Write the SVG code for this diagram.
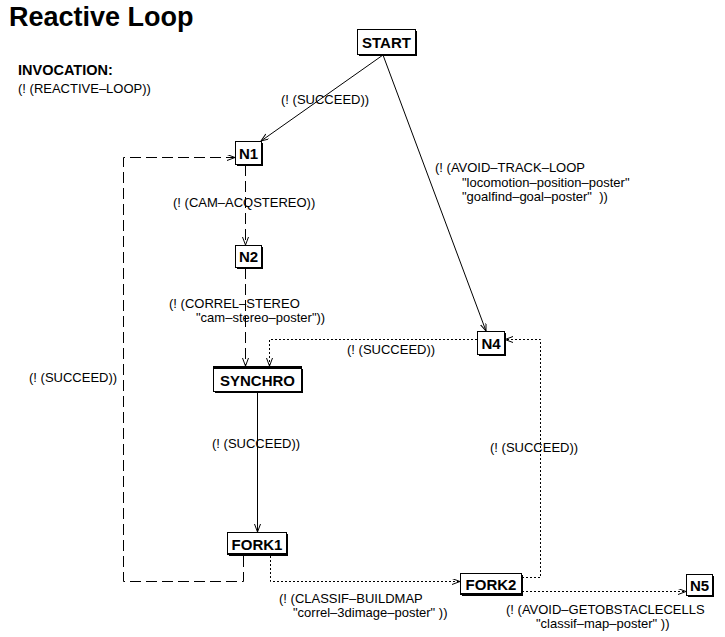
<svg xmlns="http://www.w3.org/2000/svg" width="725" height="637" viewBox="0 0 725 637">
  <style>
    text { font-family: "Liberation Sans", Arial, sans-serif; fill: #000; }
    .title { font-size: 27px; font-weight: bold; }
    .head { font-size: 14.5px; font-weight: bold; }
    .lbl { font-size: 13px; }
    .nodeText { font-size: 15px; font-weight: bold; text-anchor: middle; }
    .box { fill: #fff; stroke: #000; stroke-width: 1; }
    .shadow { fill: #000; }
    .bar { fill: #000; }
    .edge { fill: none; stroke: #000; stroke-width: 1; }
    .dashed { stroke-dasharray: 11 5; }
    .dotted { stroke-dasharray: 2 2; }
  </style>
  <defs>
    <marker id="arrow" markerWidth="10" markerHeight="8" refX="8" refY="3" orient="auto" markerUnits="userSpaceOnUse">
      <path d="M0,0 L8,3 L0,6" fill="none" stroke="#000" stroke-width="1"/>
    </marker>
  </defs>
  <rect width="725" height="637" fill="#fff"/>

  <!-- header -->
  <text class="title" x="9" y="26">Reactive Loop</text>
  <text class="head" x="18" y="75">INVOCATION:</text>
  <text class="lbl" x="18" y="93">(! (REACTIVE–LOOP))</text>

  <!-- connectors (half-pixel offsets keep 1px lines crisp) -->
  <g id="connectors">
    <path class="edge" d="M383,55 L261,141" marker-end="url(#arrow)"/>
    <path class="edge" d="M383,55 L486,331" marker-end="url(#arrow)"/>
    <path class="edge dashed" d="M245.5,165 L245.5,245" marker-end="url(#arrow)"/>
    <path class="edge dashed" d="M245.5,268 L245.5,366" marker-end="url(#arrow)"/>
    <path class="edge dotted" d="M477,339.5 L269.5,339.5 L269.5,366" marker-end="url(#arrow)"/>
    <path class="edge" d="M257.5,392 L257.5,532" marker-end="url(#arrow)"/>
    <path class="edge dashed" d="M243.5,556 L243.5,581.5 L123.5,581.5 L123.5,157.5 L235,157.5" marker-end="url(#arrow)"/>
    <path class="edge dotted" d="M270.5,556 L270.5,581.5 L460,581.5" marker-end="url(#arrow)"/>
    <path class="edge dotted" d="M522,577.5 L540.5,577.5 L540.5,339.5 L505,339.5" marker-end="url(#arrow)"/>
    <path class="edge dotted" d="M522,591.5 L686,591.5" marker-end="url(#arrow)"/>

    <!-- connector labels -->
    <text class="lbl" x="281" y="104">(! (SUCCEED))</text>
    <text class="lbl" x="435" y="172" xml:space="preserve">(! (AVOID–TRACK–LOOP</text>
    <text class="lbl" x="462" y="187" xml:space="preserve">"locomotion–position–poster"</text>
    <text class="lbl" x="462" y="201" xml:space="preserve">"goalfind–goal–poster"  ))</text>
    <text class="lbl" x="173" y="207">(! (CAM–ACQSTEREO))</text>
    <text class="lbl" x="169" y="308">(! (CORREL–STEREO</text>
    <text class="lbl" x="196" y="322">"cam–stereo–poster"))</text>
    <text class="lbl" x="347" y="354">(! (SUCCEED))</text>
    <text class="lbl" x="29" y="382">(! (SUCCEED))</text>
    <text class="lbl" x="212" y="448">(! (SUCCEED))</text>
    <text class="lbl" x="490" y="452">(! (SUCCEED))</text>
    <text class="lbl" x="279" y="603">(! (CLASSIF–BUILDMAP</text>
    <text class="lbl" x="293" y="617" xml:space="preserve">"correl–3dimage–poster" ))</text>
    <text class="lbl" x="506" y="614">(! (AVOID–GETOBSTACLECELLS</text>
    <text class="lbl" x="536" y="628" xml:space="preserve">"classif–map–poster" ))</text>
  </g>

  <!-- nodes -->
  <g id="START">
    <rect class="shadow" x="359" y="31" width="58" height="25"/>
    <rect class="box" x="357.5" y="29.5" width="58" height="25"/>
    <text class="nodeText" x="386.5" y="47.5">START</text>
  </g>
  <g id="N1">
    <rect class="shadow" x="237" y="143" width="26" height="23"/>
    <rect class="box" x="235.5" y="141.5" width="26" height="23"/>
    <text class="nodeText" x="248.5" y="158.5">N1</text>
  </g>
  <g id="N2">
    <rect class="shadow" x="237" y="247" width="26" height="22"/>
    <rect class="box" x="235.5" y="245.5" width="26" height="22"/>
    <text class="nodeText" x="248.5" y="262">N2</text>
  </g>
  <g id="SYNCHRO">
    <rect class="shadow" x="215" y="369" width="88" height="24"/>
    <rect class="box" x="213.5" y="367.5" width="88" height="24"/>
    <rect class="bar" x="213" y="366" width="89" height="3"/>
    <text class="nodeText" x="257.5" y="385.5">SYNCHRO</text>
  </g>
  <g id="FORK1">
    <rect class="shadow" x="229" y="534" width="59" height="22"/>
    <rect class="box" x="227.5" y="532.5" width="59" height="22"/>
    <rect class="bar" x="227" y="553" width="60" height="2"/>
    <text class="nodeText" x="257" y="549.5">FORK1</text>
  </g>
  <g id="N4">
    <rect class="shadow" x="479" y="333" width="27" height="23"/>
    <rect class="box" x="477.5" y="331.5" width="27" height="23"/>
    <text class="nodeText" x="491" y="348.5">N4</text>
  </g>
  <g id="FORK2">
    <rect class="shadow" x="462" y="575" width="61" height="21"/>
    <rect class="box" x="460.5" y="573.5" width="61" height="21"/>
    <rect class="bar" x="460" y="593" width="62" height="2"/>
    <text class="nodeText" x="491" y="590">FORK2</text>
  </g>
  <g id="N5">
    <rect class="shadow" x="688" y="576" width="26" height="21"/>
    <rect class="box" x="686.5" y="574.5" width="26" height="21"/>
    <text class="nodeText" x="699.5" y="590.5">N5</text>
  </g>
</svg>
